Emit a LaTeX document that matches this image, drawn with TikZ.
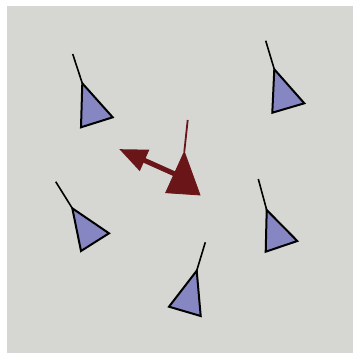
\documentclass[tikz,border=0pt]{standalone}
\usepackage{xcolor}
\usepackage{tikz}
\usetikzlibrary{arrows.meta}
\definecolor{ground}{HTML}{D6D6D3}
\definecolor{boid}{HTML}{8687C2}
\definecolor{leader}{HTML}{6A1517}

\begin{document}
\begin{tikzpicture}[x=1pt,y=-1pt,
    agent/.style={draw=black,fill=boid,line width=2pt,line join=miter},
    tail/.style={black,line width=1.6pt},
    lead/.style={fill=leader,draw=leader,line width=.8pt},
    leadtail/.style={leader,line width=1.8pt},
    heading/.style={-{Triangle[length=28pt,width=22pt]},leader,line width=5pt}]
    \useasboundingbox (0,0) rectangle (353,353);
    \fill[ground] (7,6) rectangle (353,353);
    % the five followers: tail, apex, base corners
    \foreach \i/\t/\a/\l/\r in {1/{72.7,54}/{82.3,83.3}/{81,127.3}/{112.7,117.3},
        2/{265.7,40.7}/{274.3,69.3}/{272.3,112.7}/{304.3,103.3},
        3/{55.7,181.7}/{72.3,208.3}/{81,251}/{109,233.3},
        4/{258.3,179}/{266.7,210}/{265.7,251.7}/{297.3,241},
        5/{205.3,242.3}/{196.7,270.7}/{169,306.7}/{200.7,316}}{
      \coordinate (t\i) at (\t); \coordinate (a\i) at (\a);
      \coordinate (l\i) at (\l); \coordinate (r\i) at (\r);
      \draw[tail] (t\i)--(a\i);
      \draw[agent] (a\i)--(l\i)--(r\i)--cycle;
    }
    % the leader and its heading
    \coordinate (tl) at (187.7,120); \coordinate (al) at (184.3,151.7);
    \coordinate (ll) at (165.7,192.7); \coordinate (rl) at (200,195);
    \coordinate (cl) at (176,174.5); \coordinate (hd) at (119,149);
    \draw[leadtail] (tl)--(al);
    \draw[heading] (cl)--(hd);
    \filldraw[lead] (al)--(ll)--(rl)--cycle;
  \end{tikzpicture}
\end{document}
